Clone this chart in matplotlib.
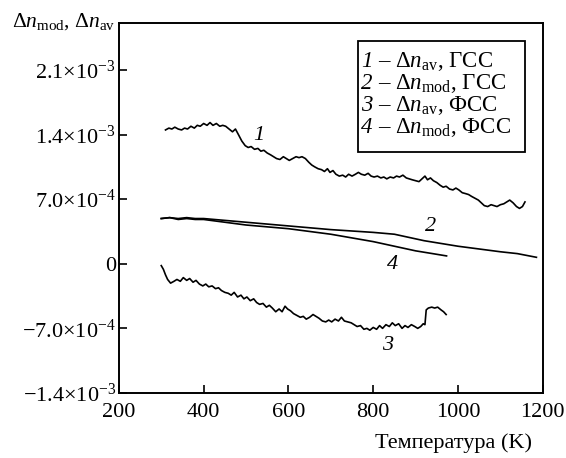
import matplotlib
matplotlib.use('Agg')
import matplotlib.pyplot as plt
from matplotlib.patches import Rectangle
import numpy as np

# curve 1: dn_av, GSS (values in 1e-3)
t1 = [310, 318, 325, 332, 340, 348, 355, 362, 370, 378, 385, 392, 400, 408, 415, 422, 430, 438, 445, 452,
      460, 468, 475, 482, 490, 498, 505, 512, 520, 528, 535, 542, 550, 558, 565, 572, 580, 588, 595, 602,
      610, 618, 625, 632, 640, 648, 655, 662, 670, 678, 685, 692, 698, 705, 712, 720, 728, 735, 742, 750,
      758, 765, 772, 780, 788, 795, 802, 810, 818, 825, 832, 840, 848, 855, 862, 870, 878, 885, 892, 900,
      908, 915, 922, 928, 935, 942, 950, 958, 965, 972, 980, 988, 995, 1002, 1010, 1018, 1025, 1032, 1040, 1048,
      1055, 1062, 1070, 1078, 1085, 1092, 1100, 1108, 1115, 1122, 1130, 1138, 1145, 1152, 1158]
n1 = [1.45, 1.47, 1.46, 1.48, 1.46, 1.45, 1.47, 1.46, 1.49, 1.47, 1.50, 1.49, 1.52, 1.50, 1.53, 1.50, 1.52, 1.49, 1.50, 1.49,
      1.46, 1.43, 1.46, 1.40, 1.33, 1.28, 1.26, 1.27, 1.24, 1.25, 1.22, 1.23, 1.20, 1.18, 1.16, 1.14, 1.13, 1.16, 1.14, 1.12,
      1.14, 1.16, 1.15, 1.16, 1.14, 1.10, 1.07, 1.05, 1.03, 1.02, 1.00, 1.03, 0.99, 1.01, 0.97, 0.95, 0.96, 0.94, 0.97, 0.95,
      0.97, 0.99, 0.97, 0.96, 0.98, 0.95, 0.94, 0.95, 0.93, 0.94, 0.92, 0.94, 0.93, 0.95, 0.94, 0.96, 0.93, 0.92, 0.91, 0.90,
      0.89, 0.92, 0.95, 0.91, 0.93, 0.90, 0.88, 0.85, 0.83, 0.84, 0.81, 0.80, 0.82, 0.80, 0.77, 0.76, 0.75, 0.73, 0.71, 0.69,
      0.66, 0.63, 0.62, 0.64, 0.63, 0.62, 0.64, 0.65, 0.67, 0.69, 0.66, 0.62, 0.60, 0.62, 0.67]

# curve 2: dn_mod, GSS
t2 = [300, 320, 340, 360, 380, 400, 450, 500, 550, 600, 650, 700, 750, 800, 850, 880, 920, 960, 1000, 1050, 1100, 1140, 1185]
n2 = [0.49, 0.50, 0.49, 0.50, 0.49, 0.49, 0.47, 0.45, 0.43, 0.41, 0.39, 0.37, 0.355, 0.34, 0.32, 0.29, 0.25, 0.22, 0.19, 0.16, 0.13, 0.11, 0.07]

# curve 3: dn_av, FSS
t3 = [300, 305, 310, 315, 322, 330, 337, 345, 352, 360, 367, 375, 382, 390, 398, 405, 412, 420, 428, 435,
      442, 450, 458, 465, 472, 480, 488, 495, 502, 510, 518, 525, 532, 540, 548, 555, 562, 570, 578, 585,
      592, 598, 605, 612, 620, 628, 635, 642, 650, 658, 665, 672, 680, 688, 695, 702, 710, 718, 725, 732,
      740, 748, 755, 762, 770, 778, 785, 792, 800, 808, 815, 822, 830, 838, 845, 852, 860, 868, 875, 882,
      890, 898, 905, 912, 918, 922, 925, 930, 938, 945, 952, 960, 966, 972]
n3 = [-0.02, -0.06, -0.12, -0.17, -0.21, -0.19, -0.17, -0.19, -0.15, -0.18, -0.16, -0.20, -0.18, -0.22, -0.24, -0.22, -0.25, -0.24, -0.27, -0.26,
      -0.29, -0.31, -0.32, -0.34, -0.31, -0.36, -0.34, -0.38, -0.36, -0.40, -0.38, -0.42, -0.44, -0.43, -0.47, -0.45, -0.48, -0.52, -0.49, -0.52,
      -0.46, -0.49, -0.51, -0.54, -0.56, -0.58, -0.57, -0.60, -0.58, -0.55, -0.57, -0.59, -0.62, -0.63, -0.61, -0.63, -0.60, -0.62, -0.58, -0.62,
      -0.63, -0.64, -0.66, -0.68, -0.67, -0.71, -0.70, -0.72, -0.69, -0.71, -0.67, -0.70, -0.66, -0.68, -0.64, -0.67, -0.65, -0.70, -0.67, -0.69,
      -0.66, -0.68, -0.70, -0.68, -0.65, -0.66, -0.50, -0.48, -0.47, -0.48, -0.47, -0.50, -0.52, -0.55]

# curve 4: dn_mod, FSS
t4 = [300, 320, 340, 360, 380, 400, 450, 500, 550, 600, 650, 700, 750, 800, 850, 900, 940, 973]
n4 = [0.49, 0.50, 0.48, 0.49, 0.48, 0.48, 0.45, 0.42, 0.40, 0.38, 0.35, 0.32, 0.28, 0.24, 0.19, 0.14, 0.11, 0.085]

legend_nums = ['1', '2', '3', '4']
legend_texts = [r'– $\Delta \mathit{n}_{\mathrm{av}}$, ГСС',
                r'– $\Delta \mathit{n}_{\mathrm{mod}}$, ГСС',
                r'– $\Delta \mathit{n}_{\mathrm{av}}$, ФСС',
                r'– $\Delta \mathit{n}_{\mathrm{mod}}$, ФСС']
yticks = [-1.4e-3, -7e-4, 0, 7e-4, 1.4e-3, 2.1e-3]
ytick_labels = [r'$-1.4{\times}10^{-3}$', r'$-7.0{\times}10^{-4}$', '0',
                r'$7.0{\times}10^{-4}$', r'$1.4{\times}10^{-3}$', r'$2.1{\times}10^{-3}$']
xticks = [200, 400, 600, 800, 1000, 1200]

plt.rcParams['font.family'] = ['Liberation Serif', 'DejaVu Serif']
plt.rcParams['mathtext.fontset'] = 'custom'
plt.rcParams['mathtext.rm'] = 'Liberation Serif'
plt.rcParams['mathtext.it'] = 'Liberation Serif:italic'
plt.rcParams['mathtext.bf'] = 'Liberation Serif:bold'
plt.rcParams['font.size'] = 16

fig = plt.figure(figsize=(5.66, 4.58), dpi=100)
ax = fig.add_axes([0.210, 0.142, 0.749, 0.808])

for t, n in [(t1, n1), (t2, n2), (t3, n3), (t4, n4)]:
    ax.plot(t, np.array(n) * 1e-3, color='k', lw=1.2)

# curve numbers
for txt, x, y in [('1', 530, 1.39e-3), ('2', 936, 0.40e-3), ('3', 833, -0.89e-3), ('4', 846, -0.01e-3)]:
    ax.text(x, y, txt, style='italic', fontsize=16, ha='center', va='center')

ax.set_xlim(200, 1200)
ax.set_ylim(-1.4e-3, 2.61e-3)
ax.set_xticks(xticks)
ax.set_yticks(yticks)
ax.set_yticklabels(ytick_labels)
ax.tick_params(direction='in', length=6, width=1.2, labelsize=16)
ax.tick_params(axis='x', pad=7)
ax.tick_params(axis='y', pad=2)
for s in ax.spines.values():
    s.set_linewidth(1.4)

# legend box drawn by hand (italic numbers + text)
ax.add_patch(Rectangle((0.564, 0.651), 0.394, 0.300, transform=ax.transAxes,
                       fill=False, edgecolor='k', lw=1.3))
row_y = [0.881, 0.822, 0.762, 0.703]
for num, txt, y in zip(legend_nums, legend_texts, row_y):
    ax.text(0.571, y, num, style='italic', fontsize=16.5, ha='left', va='baseline', transform=ax.transAxes)
    ax.text(0.611, y, txt, fontsize=16.5, ha='left', va='baseline', transform=ax.transAxes)

fig.text(0.021, 0.941, r'$\Delta \mathit{n}_{\mathrm{mod}}$, $\Delta \mathit{n}_{\mathrm{av}}$',
         fontsize=15.5, ha='left', va='baseline')
fig.text(0.940, 0.022, 'Температура (K)', fontsize=16, ha='right', va='baseline')

fig.savefig('out.png', dpi=100)
